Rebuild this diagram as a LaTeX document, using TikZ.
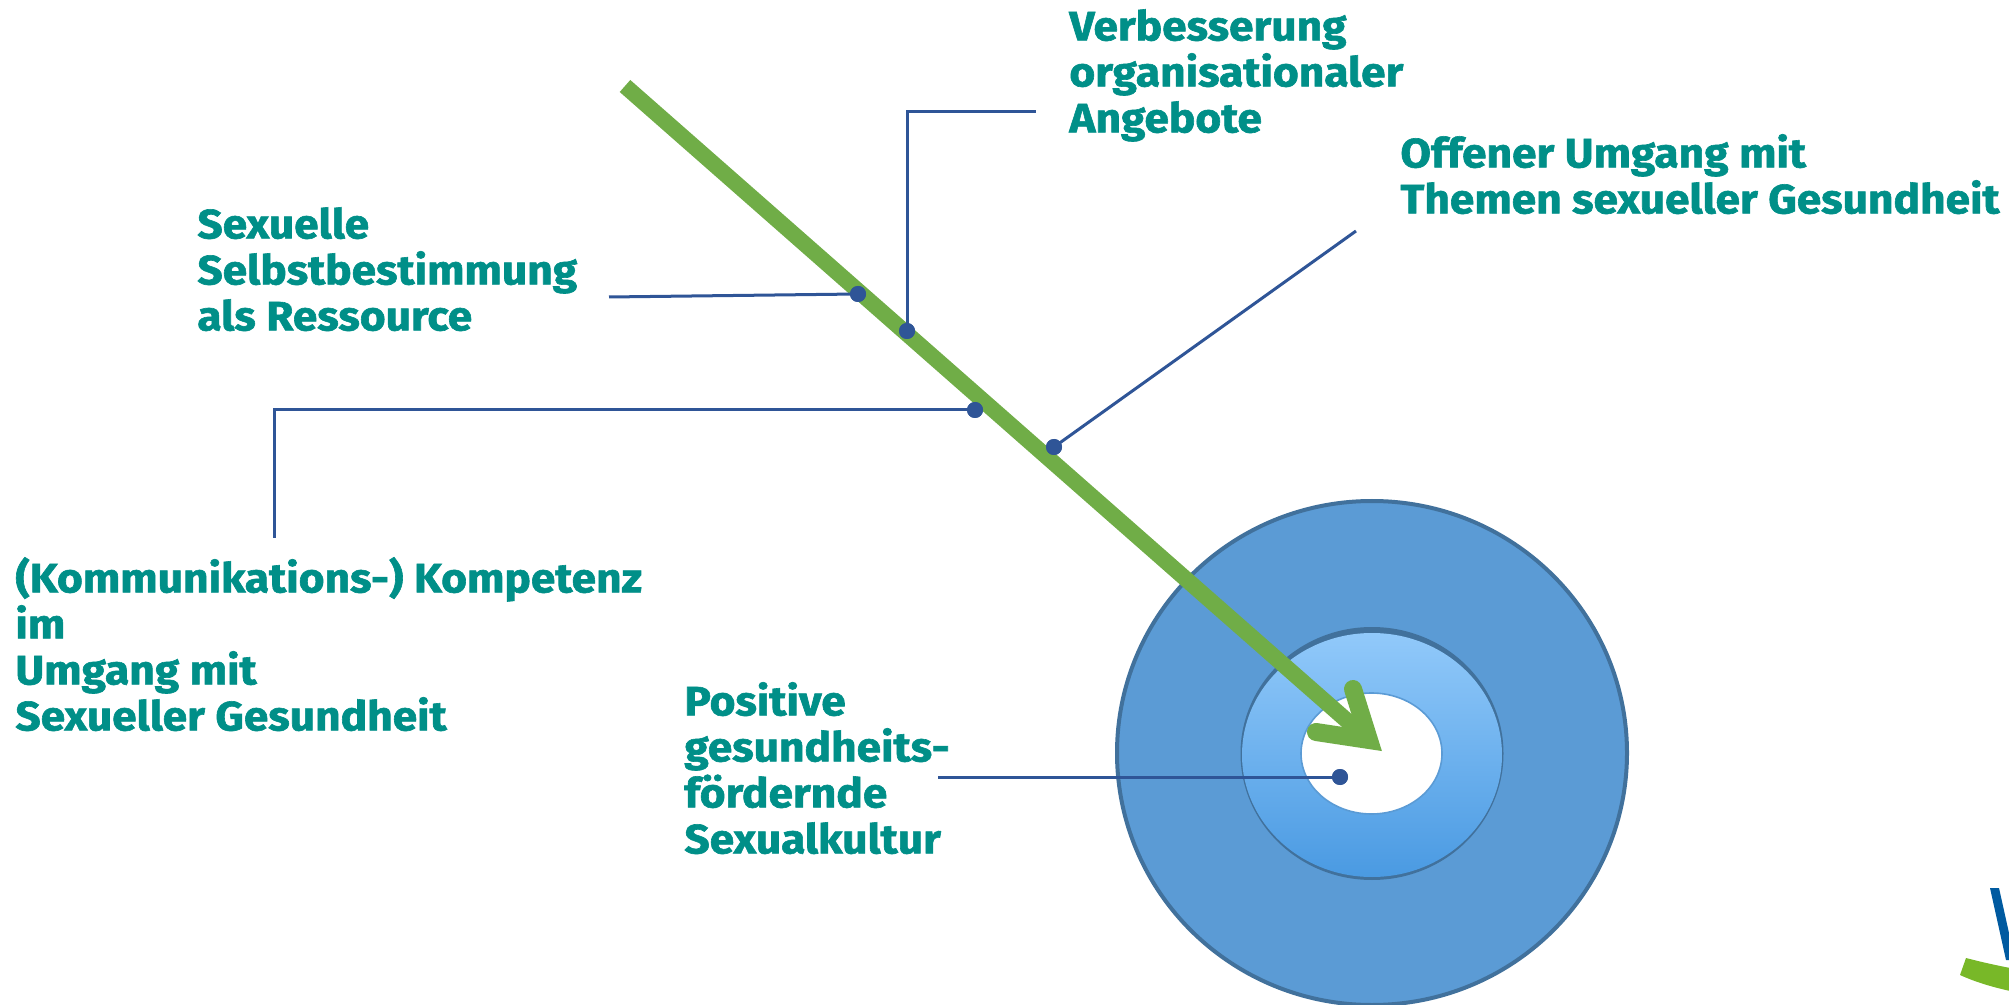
\documentclass[tikz,border=0pt]{standalone}
\usepackage{fontspec}
\setmainfont{Fira Sans}[FakeStretch=1.08, BoldFeatures={FakeBold=1.5}]
\definecolor{teal1}{RGB}{0,143,136}
\definecolor{conn}{RGB}{47,85,151}
\definecolor{arrowgreen}{RGB}{112,173,71}
\definecolor{outerfill}{RGB}{91,155,213}
\definecolor{outerline}{RGB}{65,113,156}
\definecolor{ringtop}{RGB}{145,201,250}
\definecolor{ringbot}{RGB}{74,154,226}
\definecolor{logoblue}{RGB}{0,90,160}
\definecolor{logogreen}{RGB}{120,184,40}
\newcommand\lblfont{\fontsize{20.5}{23}\selectfont\bfseries}
\tikzset{
  lbl/.style={anchor=north west, inner sep=0pt, align=left, text=teal1, font=\lblfont},
  connline/.style={draw=conn, line width=1.5pt},
  dotmark/.style={circle, fill=conn, inner sep=0pt, minimum size=8pt},
  shaft/.style={draw=arrowgreen, line width=8pt},
  barbs/.style={draw=arrowgreen, line width=9pt, line cap=round, line join=miter}
}
\begin{document}
\begin{tikzpicture}[x=0.5pt, y=-0.5pt]
\useasboundingbox (0,0) rectangle (2009,1005);
\clip (0,0) rectangle (2009,1005);
% target
\draw[fill=outerfill, draw=outerline, line width=2pt] (1372,753) ellipse [x radius=255, y radius=252];
\fill[outerline] (1372,753.5) ellipse [x radius=131.5, y radius=126.5];
\shade[top color=ringtop, bottom color=ringbot] (1372,755) ellipse [x radius=130, y radius=122];
\draw[fill=white, draw=outerfill, line width=0.8pt] (1371.5,753.5) ellipse [x radius=70.5, y radius=60.5];
% arrow
\coordinate (s) at (625,86);
\coordinate (v) at (1369,740);
\coordinate (b1) at (1353,689);
\coordinate (b2) at (1316,732);
\draw[shaft] (s) -- (v);
\draw[barbs] (b1) -- (v) -- (b2);
% labels
\node[lbl] (verb) at (1069,4) {\rule{0pt}{18pt}Verbesserung\\organisationaler\\Angebote};
\node[lbl] (offen) at (1400,131) {\rule{0pt}{18pt}Offener Umgang mit\\Themen sexueller Gesundheit};
\node[lbl] (sexu) at (197,202) {\rule{0pt}{18pt}Sexuelle\\Selbstbestimmung\\als Ressource};
\node[lbl] (komm) at (15,556) {\rule{0pt}{18pt}(Kommunikations-) Kompetenz\\im\\Umgang mit\\Sexueller Gesundheit};
\node[lbl] (posi) at (684,679) {\rule{0pt}{18pt}Positive\\gesundheits-\\fördernde\\Sexualkultur};
% connectors
\node[dotmark] (d1) at (858,294) {};
\node[dotmark] (d2) at (907,331) {};
\node[dotmark] (d3) at (975,410) {};
\node[dotmark] (d4) at (1054,447) {};
\node[dotmark] (d5) at (1340,777) {};
\coordinate (e1) at (609,297);
\coordinate (e2) at (1036,112);
\coordinate (e3) at (274,538);
\coordinate (e4) at (1356,231);
\coordinate (e5) at (938,777);
\draw[connline] (d1.center) -- (e1);
\draw[connline] (d2.center) |- (e2);
\draw[connline] (d3.center) -| (e3);
\draw[connline] (d4.center) -- (e4);
\draw[connline] (d5.center) -- (e5);
\node[dotmark] at (d1) {};
\node[dotmark] at (d2) {};
\node[dotmark] at (d3) {};
\node[dotmark] at (d4) {};
\node[dotmark] at (d5) {};
% logo fragment
\fill[logoblue] (1990,888) -- (1999,888) -- (2015,960) -- (2006,960) -- cycle;
\fill[logogreen] (1966,958) .. controls (1985,963) and (2000,966) .. (2015,969) -- (2015,992) .. controls (1995,988) and (1975,982) .. (1960,975) -- cycle;
\end{tikzpicture}
\end{document}
